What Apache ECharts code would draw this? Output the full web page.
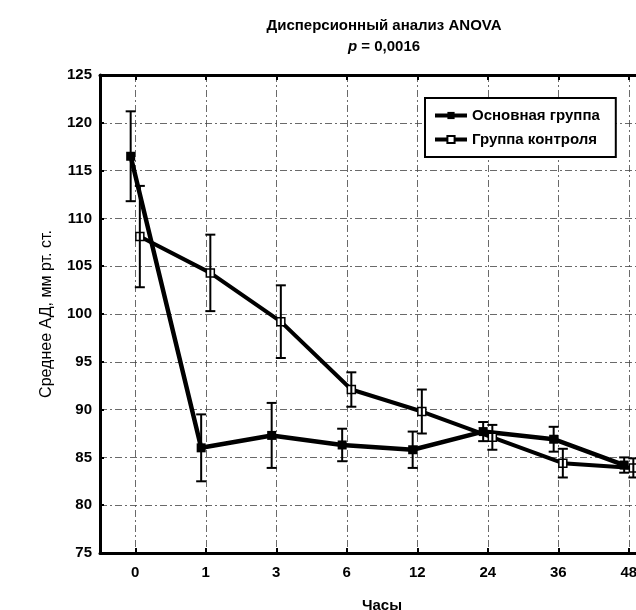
<!DOCTYPE html>
<html>
<head>
<meta charset="utf-8">
<script src="https://cdn.jsdelivr.net/npm/echarts@6/dist/echarts.min.js"></script>
<style>html,body{margin:0;padding:0;background:#fff}#c{width:636px;height:610px}</style>
</head>
<body>
<div id="c"></div>
<script>
// Data
const categories = ['0', '1', '3', '6', '12', '24', '36', '48'];
const mainName = 'Основная группа';
const ctrlName = 'Группа контроля';
const mainMean = [116.5, 86.0, 87.3, 86.3, 85.8, 87.7, 86.9, 84.2];
const mainErr  = [4.7, 3.5, 3.4, 1.7, 1.9, 1.0, 1.3, 0.8];
const ctrlMean = [108.1, 104.3, 99.2, 92.1, 89.8, 87.1, 84.4, 83.9];
const ctrlErr  = [5.3, 4.0, 3.8, 1.8, 2.3, 1.3, 1.5, 1.0];
const yTicks = [75, 80, 85, 90, 95, 100, 105, 110, 115, 120, 125];

const FONT = "'Liberation Sans', Arial, sans-serif";
const DODGE = 0.065;

function pts(mean, d) { return mean.map((v, i) => [i + d, v]); }
function errs(mean, err, d) { return mean.map((v, i) => [i + d, v - err[i], v + err[i]]); }

function errRender(params, api) {
  const x = api.value(0);
  const lo = api.coord([x, api.value(1)]);
  const hi = api.coord([x, api.value(2)]);
  const cw = 5;
  const st = { stroke: '#000', lineWidth: 2 };
  return {
    type: 'group',
    children: [
      { type: 'line', shape: { x1: lo[0], y1: lo[1], x2: hi[0], y2: hi[1] }, style: st },
      { type: 'line', shape: { x1: lo[0] - cw, y1: lo[1], x2: lo[0] + cw, y2: lo[1] }, style: st },
      { type: 'line', shape: { x1: hi[0] - cw, y1: hi[1], x2: hi[0] + cw, y2: hi[1] }, style: st }
    ]
  };
}

const gridLine = { show: true, lineStyle: { color: '#444', width: 0.8, type: [7, 3, 2, 3] } };

const chart = echarts.init(document.getElementById('c'), null, { renderer: 'canvas' });
chart.setOption({
  animation: false,
  backgroundColor: '#fff',
  title: {
    text: 'Дисперсионный анализ ANOVA',
    subtext: '{i|p} = 0,0016',
    left: 379, top: 13, textAlign: 'center', itemGap: 6,
    textStyle: { fontFamily: FONT, fontSize: 15, fontWeight: 'bold', color: '#000' },
    subtextStyle: {
      fontFamily: FONT, fontSize: 15, fontWeight: 'bold', color: '#000',
      rich: { i: { fontFamily: FONT, fontSize: 15, fontWeight: 'bold', fontStyle: 'italic', color: '#000' } }
    }
  },
  legend: {
    data: [mainName, ctrlName],
    orient: 'vertical',
    left: 425, top: 98,
    padding: [10, 16, 10, 8],
    itemGap: 9,
    itemWidth: 32, itemHeight: 9,
    borderColor: '#000', borderWidth: 2,
    backgroundColor: '#fff',
    lineStyle: { width: 4 },
    textStyle: { fontFamily: FONT, fontSize: 15, fontWeight: 'bold', color: '#000' }
  },
  grid: { left: 100, top: 75, width: 564, height: 478, containLabel: false, outerBoundsMode: 'none' },
  xAxis: [{
    type: 'value', min: -0.5, max: 7.5, splitNumber: 8, minInterval: 1, maxInterval: 1,
    name: 'Часы', nameLocation: 'middle', nameGap: 45,
    nameTextStyle: { fontFamily: FONT, fontSize: 15, fontWeight: 'bold', color: '#000' },
    axisLine: { show: true, onZero: false, lineStyle: { color: '#000', width: 3 } },
    axisTick: { show: true, inside: true, length: 5, lineStyle: { color: '#000', width: 2 } },
    axisLabel: {
      margin: 12, fontFamily: FONT, fontSize: 15, fontWeight: 'bold', color: '#000',
      formatter: v => (Number.isInteger(v) && categories[v] !== undefined) ? categories[v] : ''
    },
    splitLine: gridLine
  }, {
    type: 'value', position: 'top', min: -0.5, max: 7.5, splitNumber: 8, minInterval: 1, maxInterval: 1,
    axisLine: { show: true, onZero: false, lineStyle: { color: '#000', width: 3 } },
    axisTick: { show: true, inside: true, length: 5, lineStyle: { color: '#000', width: 2 } },
    axisLabel: { show: false },
    splitLine: { show: false }
  }],
  yAxis: {
    type: 'value', min: yTicks[0], max: yTicks[yTicks.length - 1], interval: 5,
    name: 'Среднее АД, мм рт. ст.', nameLocation: 'middle', nameGap: 45, nameRotate: 90,
    nameTextStyle: { fontFamily: FONT, fontSize: 16, color: '#000' },
    axisLine: { show: true, onZero: false, lineStyle: { color: '#000', width: 3 } },
    axisTick: { show: true, inside: true, length: 4, lineStyle: { color: '#000', width: 2 } },
    axisLabel: { margin: 8, fontFamily: FONT, fontSize: 15, fontWeight: 'bold', color: '#000' },
    splitLine: gridLine
  },
  series: [
    {
      name: mainName, type: 'line', data: pts(mainMean, -DODGE), z: 3,
      symbol: 'rect', symbolSize: 9,
      lineStyle: { color: '#000', width: 4.5 },
      itemStyle: { color: '#000', borderColor: '#000', borderWidth: 0 }
    },
    {
      name: ctrlName, type: 'line', data: pts(ctrlMean, DODGE), z: 3,
      symbol: 'rect', symbolSize: 8,
      lineStyle: { color: '#000', width: 4 },
      itemStyle: { color: '#fff', borderColor: '#000', borderWidth: 1.5 }
    },
    { type: 'custom', name: mainName + ' err', data: errs(mainMean, mainErr, -DODGE), renderItem: errRender, z: 4, silent: true },
    { type: 'custom', name: ctrlName + ' err', data: errs(ctrlMean, ctrlErr, DODGE), renderItem: errRender, z: 4, silent: true }
  ]
});
</script>
</body>
</html>
